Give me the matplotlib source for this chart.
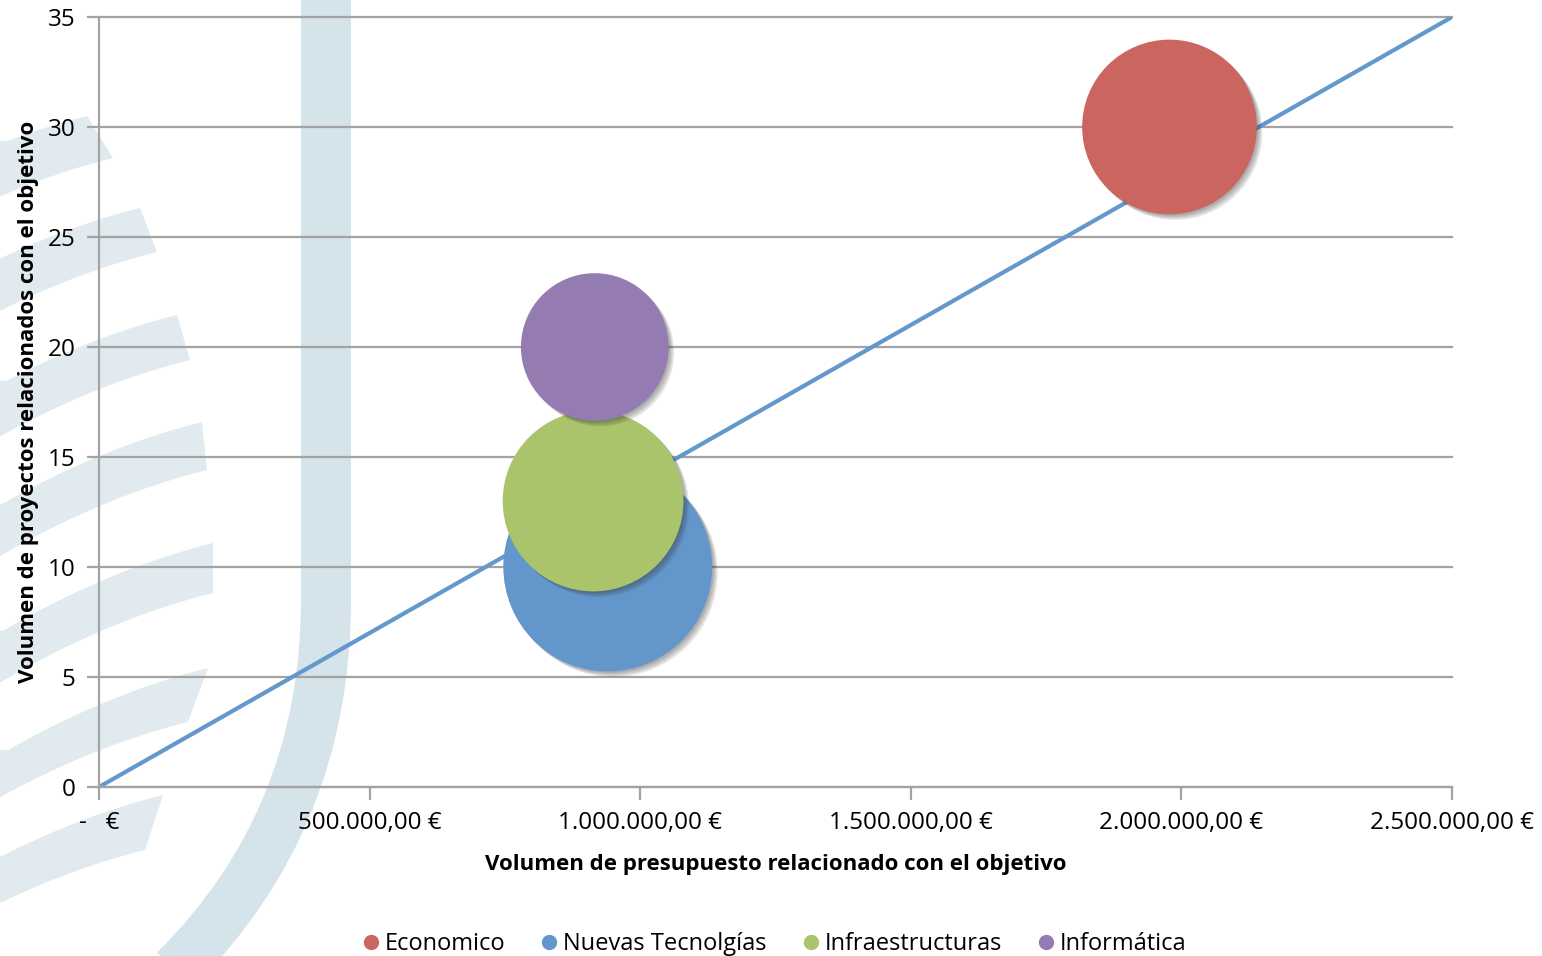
import matplotlib.pyplot as plt
from matplotlib.lines import Line2D
from matplotlib.path import Path
from matplotlib.patches import PathPatch, Polygon
import matplotlib.patheffects as pe

plt.rcParams['font.family'] = ['Open Sans', 'DejaVu Sans']

# datos
categorias = ["Economico", "Nuevas Tecnolgías", "Infraestructuras", "Informática"]
presupuesto = [1978000, 940000, 913000, 916000]
proyectos = [30, 10, 13, 20]
burbuja = [14, 20, 15, 10]
colores = ["#CB655F", "#6397CB", "#AAC46C", "#947CB2"]

linea_x = [0, 2500000]
linea_y = [0, 35]

x_ticks = [0, 500000, 1000000, 1500000, 2000000, 2500000]
x_labels = ["-   €", "500.000,00 €", "1.000.000,00 €", "1.500.000,00 €",
            "2.000.000,00 €", "2.500.000,00 €"]
y_ticks = [0, 5, 10, 15, 20, 25, 30, 35]

gris = "#A3A3A3"
W, H = 1542, 956

fig = plt.figure(figsize=(W / 100, H / 100), dpi=100)

# marca de agua de fondo (coordenadas en pixeles)
bg = fig.add_axes([0, 0, 1, 1])
bg.set_xlim(0, W)
bg.set_ylim(H, 0)
bg.axis("off")
bg.set_zorder(0)

franjas = [((87, 116), (113, 158)), ((140, 208), (157, 252)), ((177, 315), (190, 360)),
           ((202, 422), (207, 470)), ((213, 543), (213, 593)), ((208, 668), (188, 722)),
           ((163, 795), (145, 850))]
for (xt, yt), (xb, yb) in franjas:
    top = [(x, yt + 0.25 * (xt - x) + 0.0008 * (xt - x) ** 2) for x in range(int(xt), -1, -10)]
    bot = [(x, yb + 0.25 * (xb - x) + 0.0008 * (xb - x) ** 2) for x in range(0, int(xb) + 1, 10)]
    pts = [(xt, yt)] + top + [(-5, top[-1][1])] + [(-5, bot[0][1])] + bot + [(xb, yb)]
    bg.add_patch(Polygon(pts, closed=True, fc="#E1EAEF", ec="none"))

jota = Path([(326, -10), (326, 600), (326, 820), (175, 970)],
            [Path.MOVETO, Path.LINETO, Path.CURVE3, Path.CURVE3])
bg.add_patch(PathPatch(jota, fc="none", ec="#D5E3EA", lw=50 * 0.72, capstyle="butt"))

# grafico principal
ax = fig.add_axes([99 / W, 1 - 787 / H, 1353 / W, 770 / H])
ax.set_facecolor("none")
ax.set_zorder(1)

ax.plot(linea_x, linea_y, color="#6398CC", lw=3, zorder=2, solid_capstyle="butt")

sombra = [pe.SimplePatchShadow(offset=(d, -d), shadow_rgbFace="#333333", alpha=0.12)
          for d in (1, 2, 3, 4)] + [pe.Normal()]
for xi, yi, b, c in zip(presupuesto, proyectos, burbuja, colores):
    sc = ax.scatter([xi], [yi], s=b * 1130, color=c, edgecolors="none", zorder=3)
    sc.set_path_effects(sombra)

ax.set_xlim(0, 2500000)
ax.set_ylim(0, 35)
ax.set_xticks(x_ticks)
ax.set_xticklabels(x_labels)
ax.set_yticks(y_ticks)

ax.yaxis.grid(True, color=gris, lw=1.6)
for l in ax.get_ygridlines():
    l.set_clip_on(False)
ax.set_axisbelow(True)

for s in ("top", "right"):
    ax.spines[s].set_visible(False)
for s in ("left", "bottom"):
    ax.spines[s].set_color(gris)
    ax.spines[s].set_linewidth(1.6)

ax.tick_params(axis="both", length=9, width=1.6, color=gris, labelsize=17.5, pad=8)

ax.set_xlabel("Volumen de presupuesto relacionado con el objetivo",
              fontsize=16, fontweight="bold", labelpad=14)
ax.set_ylabel("Volumen de proyectos relacionados con el objetivo",
              fontsize=16, fontweight="bold", labelpad=6)

handles = [Line2D([], [], ls="none", marker="o", markersize=10, color=c) for c in colores]
fig.legend(handles, categorias, loc="center", bbox_to_anchor=(774 / W, 1 - 944 / H),
           ncol=4, frameon=False, fontsize=17, handletextpad=0.2, columnspacing=1.45,
           handlelength=0.8)

fig.savefig("out.png", dpi=100)
